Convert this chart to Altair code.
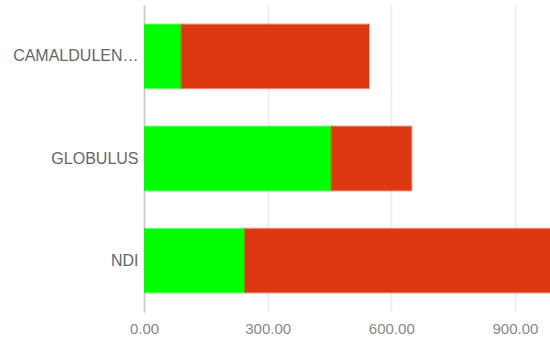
import altair as alt
import pandas as pd

categories = ["CAMALDULENSIS", "GLOBULUS", "NDI"]
series_names = ["Serie 1", "Serie 2"]
green_values = [91, 455, 245]
red_values = [455, 194, 760]
tick_values = [0, 300, 600, 900]
colors = ["#00ff00", "#dc3912"]

rows = []
for c, g, r in zip(categories, green_values, red_values):
    rows.append({"cat": c, "serie": series_names[0], "val": g, "ord": 0})
    rows.append({"cat": c, "serie": series_names[1], "val": r, "ord": 1})
df = pd.DataFrame(rows)

color_scale = alt.Scale(domain=series_names, range=colors)

chart = alt.Chart(df).mark_bar(
    clip=True, strokeWidth=2, strokeOpacity=0.45
).encode(
    y=alt.Y("cat:N", sort=categories, title=None,
            scale=alt.Scale(paddingInner=0.375, paddingOuter=0.19),
            axis=alt.Axis(labelFont="Liberation Sans", labelFontSize=16,
                          labelColor="#666", labelLimit=127, labelPadding=6,
                          ticks=False, domain=True, domainColor="#c8c8c8",
                          domainWidth=1.5, grid=False)),
    x=alt.X("val:Q", stack="zero", title=None,
            scale=alt.Scale(domain=[0, 985], nice=False),
            axis=alt.Axis(values=tick_values, format=".2f",
                          labelFont="Liberation Sans", labelFontSize=15,
                          labelColor="#888", labelPadding=9, ticks=False,
                          domain=False, grid=True, gridColor="#ebebeb",
                          gridWidth=1.5, labelFlush=False)),
    color=alt.Color("serie:N", scale=color_scale, legend=None),
    stroke=alt.Stroke("serie:N", scale=color_scale, legend=None),
    order=alt.Order("ord:Q"),
).properties(
    width=406, height=307,
    padding={"left": 144, "top": 5, "right": 0, "bottom": 26},
    autosize="none",
).configure_view(stroke=None)

chart.save("out.html", embed_options={"renderer": "svg", "actions": False})
